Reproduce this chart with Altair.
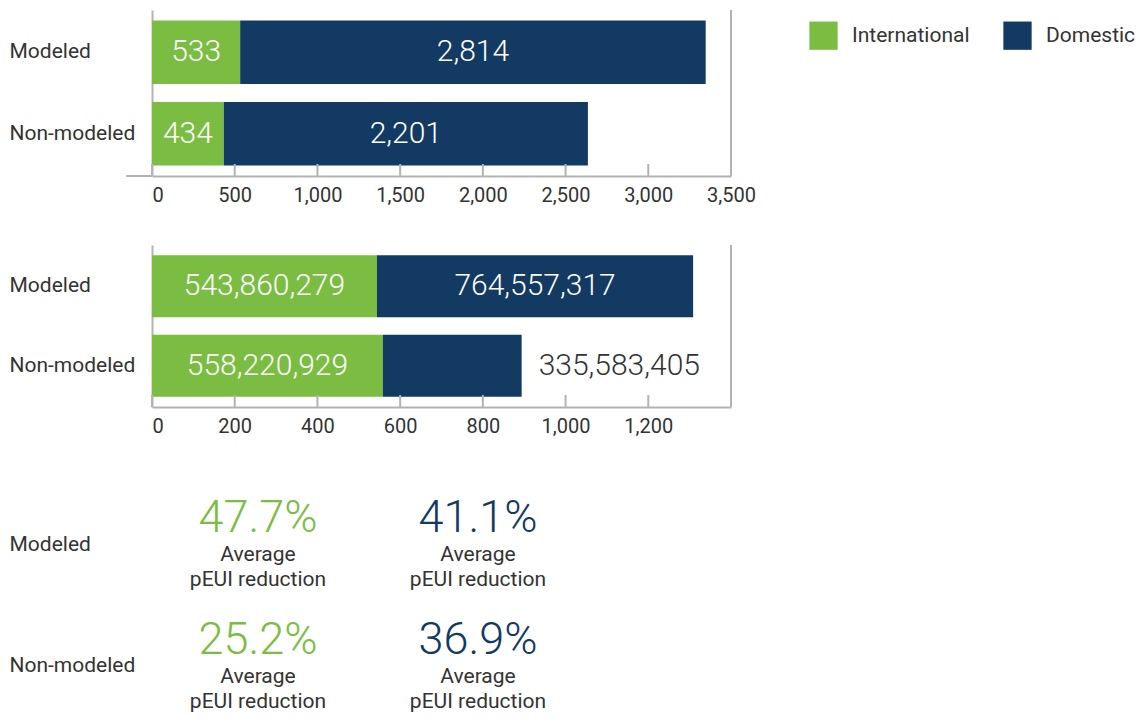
import altair as alt
import pandas as pd

# ---------------- data ----------------
categories = ["Modeled", "Non-modeled"]
series = ["International", "Domestic"]
count_international = [533, 434]
count_domestic = [2814, 2201]
area_international = [543860279, 558220929]
area_domestic = [764557317, 335583405]
peui_international = [47.7, 25.2]
peui_domestic = [41.1, 36.9]
count_ticks = [0, 500, 1000, 1500, 2000, 2500, 3000, 3500]
count_max = 3500
area_ticks = [0, 200, 400, 600, 800, 1000, 1200]
area_max = 1400
# which segment labels sit outside their bar (Non-modeled domestic area)
area_label_outside = [False, False, False, True]
count_label_outside = [False, False, False, False]

# ---------------- style ----------------
GREEN = "#7abd42"
NAVY = "#133a63"
TEXT = "#333333"
AXIS = "#b3b3b3"
FONT = "Roboto"
W = 579

color_scale = alt.Scale(domain=series, range=[GREEN, NAVY])


def long_table(intl, dom, outside):
    rows = []
    k = 0
    for i, c in enumerate(categories):
        rows.append({"category": c, "series": series[0], "order": 0,
                     "value": intl[i], "outside": outside[k]})
        k += 1
        rows.append({"category": c, "series": series[1], "order": 1,
                     "value": dom[i], "outside": outside[k]})
        k += 1
    return pd.DataFrame(rows)


def y_axis(domain=True):
    return alt.Axis(title=None, labelAlign="left", labelPadding=143, ticks=False,
                    domain=domain, domainColor=AXIS, domainWidth=2,
                    labelFontSize=21, labelColor=TEXT, labelFont=FONT)


def bar_panel(df, divisor, xmax, ticks, h, legend, extend_left):
    base = (alt.Chart(df)
            .transform_calculate(v="datum.value / %d" % divisor)
            .transform_stack(stack="v", groupby=["category"], as_=["v0", "v1"],
                             sort=[alt.SortField(field="order", order="ascending")])
            .transform_calculate(mid="(datum.v0 + datum.v1) / 2"))
    x_scale = alt.Scale(domain=[0, xmax], nice=False, zero=True)
    x_axis = alt.Axis(title=None, values=ticks, format=",.0f", labelFlush=False,
                      labelAlign={"condition": {"test": "datum.value === 0", "value": "left"},
                                  "value": "center"},
                      labelFontSize=20, labelColor=TEXT, labelFont=FONT, labelPadding=9,
                      ticks=False, grid=False, domainColor=AXIS, domainWidth=2)
    y_enc = alt.Y("category:N", sort=categories,
                  scale=alt.Scale(paddingInner=0.22, paddingOuter=0.13), axis=y_axis())

    bars = base.mark_bar().encode(
        x=alt.X("v0:Q", scale=x_scale, axis=x_axis),
        x2="v1:Q",
        y=y_enc,
        color=alt.Color("series:N", scale=color_scale, sort=series, legend=legend),
    )
    inside = base.transform_filter("!datum.outside").mark_text(
        color="white", fontSize=30, fontWeight=300, font=FONT, align="center", baseline="middle"
    ).encode(x=alt.X("mid:Q", scale=x_scale, axis=x_axis), y=y_enc,
             text=alt.Text("value:Q", format=","))
    outside = base.transform_filter("datum.outside").mark_text(
        color=TEXT, fontSize=30, fontWeight=300, font=FONT, align="left", baseline="middle", dx=17
    ).encode(x=alt.X("v1:Q", scale=x_scale, axis=x_axis), y=y_enc,
             text=alt.Text("value:Q", format=","))
    tick_marks = alt.Chart(pd.DataFrame({"t": ticks})).mark_rule(
        color=AXIS, strokeWidth=2
    ).encode(x=alt.X("t:Q", scale=x_scale, axis=x_axis),
             y=alt.value(h - 12), y2=alt.value(h))
    border = alt.Chart(pd.DataFrame({"t": [xmax]})).mark_rule(
        color=AXIS, strokeWidth=2
    ).encode(x=alt.X("t:Q", scale=x_scale, axis=x_axis), y=alt.value(0), y2=alt.value(h))
    layers = [bars, inside, outside, tick_marks, border]
    if extend_left:
        ext = alt.Chart(pd.DataFrame({"t": [0]})).mark_rule(
            color=AXIS, strokeWidth=2
        ).encode(x=alt.value(-26), x2=alt.value(0), y=alt.value(h))
        layers.append(ext)
    return alt.layer(*layers).properties(width=W, height=h)


legend = alt.Legend(title=None, orient="none", legendX=657, legendY=11, direction="horizontal",
                    symbolType="square", symbolSize=800, symbolStrokeWidth=0,
                    labelFontSize=21, labelColor=TEXT, labelFont=FONT, labelOffset=14,
                    columnPadding=33, padding=0)

counts_df = long_table(count_international, count_domestic, count_label_outside)
area_df = long_table(area_international, area_domestic, area_label_outside)

p1 = bar_panel(counts_df, 1, count_max, count_ticks, 166, legend, True)
p2 = bar_panel(area_df, 1000000, area_max, area_ticks, 162, None, False)

# ---------------- pEUI text panel ----------------
rows = []
for i, c in enumerate(categories):
    rows.append({"category": c, "series": series[0], "pct": peui_international[i]})
    rows.append({"category": c, "series": series[1], "pct": peui_domestic[i]})
peui_df = pd.DataFrame(rows)

x3 = alt.X("series:N", sort=series,
           scale=alt.Scale(type="point", domain=series, range=[106, 326], padding=0), axis=None)
y3 = alt.Y("category:N", sort=categories,
           scale=alt.Scale(type="point", padding=0.369), axis=y_axis(domain=False))
base3 = alt.Chart(peui_df).transform_calculate(label="format(datum.pct, '.1f') + '%'")
pct = base3.mark_text(dy=-26, fontSize=45, fontWeight=300, font=FONT, baseline="middle").encode(
    x=x3, y=y3, text="label:N",
    color=alt.Color("series:N", scale=color_scale, sort=series, legend=None))
avg = base3.mark_text(dy=11, fontSize=21, font=FONT, color=TEXT, baseline="middle").encode(
    x=x3, y=y3, text=alt.value("Average"))
red = base3.mark_text(dy=36, fontSize=21, font=FONT, color=TEXT, baseline="middle").encode(
    x=x3, y=y3, text=alt.value("pEUI reduction"))
p3 = alt.layer(pct, avg, red).properties(width=W, height=212)

top = alt.vconcat(p1, p2, spacing=39).resolve_scale(color="independent", x="independent")
chart = (alt.vconcat(top, p3, spacing=60)
         .resolve_scale(color="independent", x="independent")
         .properties(padding={"left": 9, "top": 9, "right": 0, "bottom": 0})
         .configure(font=FONT)
         .configure_view(strokeWidth=0, stroke="transparent"))

chart.save("out.html", embed_options={"renderer": "svg", "actions": False})
